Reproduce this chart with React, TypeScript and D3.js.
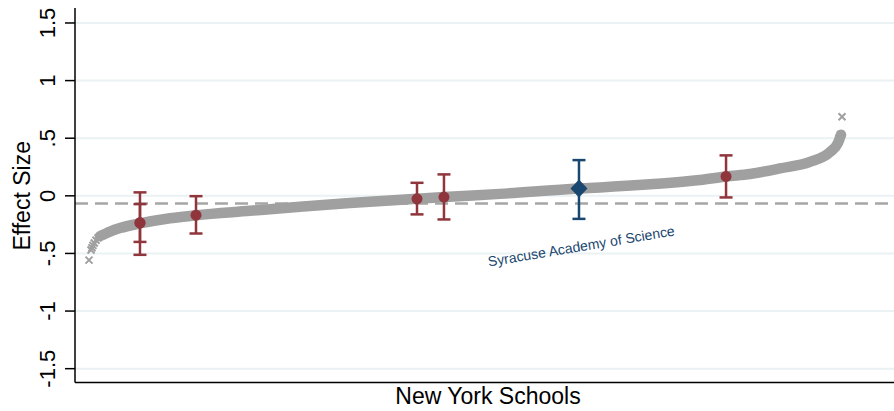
import React, { useEffect, useRef } from 'react';
import * as d3 from 'd3';

// school rank expressed as percentile (0 = lowest effect, 100 = highest)
const curvePct = [1.46, 2.79, 4.12, 6.77, 10.76, 14.21, 21.38, 28.02, 34.66, 43.56, 47.14, 54.58, 65.07, 67.86, 74.5, 81.14, 84.6, 87.78, 91.77, 95.75, 98.41, 99.47, 99.87];
const curveEffect = [-0.35, -0.31, -0.28, -0.24, -0.195, -0.168, -0.13, -0.095, -0.063, -0.026, -0.011, 0.017, 0.064, 0.073, 0.1, 0.137, 0.168, 0.19, 0.238, 0.295, 0.38, 0.46, 0.53];

// sparse tail schools drawn as single markers
const tailPct = [0, 0.27, 0.4, 0.53, 0.7, 0.93, 1.2, 99.6, 99.8, 100];
const tailEffect = [-0.558, -0.47, -0.45, -0.43, -0.41, -0.385, -0.365, 0.5, 0.53, 0.686];

// highlighted schools (red) with confidence intervals
const highlightPct = [6.77, 6.77, 14.21, 43.56, 47.14, 84.6];
const highlightEst = [-0.234, -0.234, -0.168, -0.026, -0.011, 0.168];
const highlightLo = [-0.512, -0.40, -0.327, -0.161, -0.205, -0.014];
const highlightHi = [0.03, -0.072, -0.003, 0.113, 0.186, 0.351];

// focus school
const focusName = 'Syracuse Academy of Science';
const focusPct = 65.07;
const focusEst = 0.064;
const focusLo = -0.2;
const focusHi = 0.31;

const meanEffect = -0.066;

const yTicks = [1.5, 1, 0.5, 0, -0.5, -1, -1.5];
const yTickLabels = ['1.5', '1', '.5', '0', '-.5', '-1', '-1.5'];

const W = 894, H = 411;
const RED = '#90353b';
const NAVY = '#1a476f';
const GRAY = '#a0a0a0';
const FONT = '"Liberation Sans", Arial, sans-serif';

const App = () => {
  const ref = useRef<SVGSVGElement>(null);

  useEffect(() => {
    const svg = d3.select(ref.current);
    svg.selectAll('*').remove();

    const left = 75, right = W, top = 8, bottom = 382.5;
    const x = d3.scaleLinear().domain([0, 100]).range([89, 842]);
    const y = d3.scaleLinear().domain([-1.62, 1.63]).range([bottom, top]);

    // gridlines
    svg.append('g').selectAll('line').data(yTicks).join('line')
      .attr('x1', left).attr('x2', right)
      .attr('y1', d => y(d)).attr('y2', d => y(d))
      .attr('stroke', '#eaf2f3').attr('stroke-width', 2);

    // mean line
    svg.append('line')
      .attr('x1', left).attr('x2', right)
      .attr('y1', y(meanEffect)).attr('y2', y(meanEffect))
      .attr('stroke', '#a6a6a6').attr('stroke-width', 2.5)
      .attr('stroke-dasharray', '13 7');

    // band of all schools
    const pts = curvePct.map((p, i) => [p, curveEffect[i]] as [number, number]);
    const line = d3.line<[number, number]>()
      .x(d => x(d[0])).y(d => y(d[1]))
      .curve(d3.curveMonotoneX);
    svg.append('path').attr('d', line(pts))
      .attr('fill', 'none').attr('stroke', GRAY)
      .attr('stroke-width', 10.5).attr('stroke-linecap', 'round');

    // tail markers (x)
    const s = 3.5;
    svg.append('g').selectAll('path').data(tailPct).join('path')
      .attr('d', (d, i) => {
        const cx = x(d), cy = y(tailEffect[i]);
        return `M${cx - s},${cy - s}L${cx + s},${cy + s}M${cx - s},${cy + s}L${cx + s},${cy - s}`;
      })
      .attr('stroke', GRAY).attr('stroke-width', 2).attr('fill', 'none');

    // error bars
    const cap = 6.5;
    const drawBar = (g, px, lo, hi, color) => {
      const cx = x(px);
      g.append('line').attr('x1', cx).attr('x2', cx).attr('y1', y(lo)).attr('y2', y(hi))
        .attr('stroke', color).attr('stroke-width', 2.5);
      [lo, hi].forEach(v => {
        g.append('line').attr('x1', cx - cap).attr('x2', cx + cap).attr('y1', y(v)).attr('y2', y(v))
          .attr('stroke', color).attr('stroke-width', 2.5);
      });
    };
    const bars = svg.append('g');
    highlightPct.forEach((p, i) => drawBar(bars, p, highlightLo[i], highlightHi[i], RED));
    drawBar(bars, focusPct, focusLo, focusHi, NAVY);

    svg.append('g').selectAll('circle').data(highlightPct).join('circle')
      .attr('cx', d => x(d)).attr('cy', (d, i) => y(highlightEst[i]))
      .attr('r', 5.5).attr('fill', RED);

    const fx = x(focusPct), fy = y(focusEst);
    svg.append('path')
      .attr('d', `M${fx},${fy - 9}L${fx + 8.5},${fy}L${fx},${fy + 9}L${fx - 8.5},${fy}Z`)
      .attr('fill', NAVY);

    svg.append('text')
      .attr('transform', `translate(582,251) rotate(-9.5)`)
      .attr('text-anchor', 'middle')
      .attr('font-family', FONT).attr('font-size', 14)
      .attr('fill', NAVY).text(focusName);

    // axes
    svg.append('line').attr('x1', left).attr('x2', left).attr('y1', top).attr('y2', bottom)
      .attr('stroke', '#000').attr('stroke-width', 1.5);
    svg.append('line').attr('x1', left).attr('x2', right).attr('y1', bottom).attr('y2', bottom)
      .attr('stroke', '#000').attr('stroke-width', 1.5);
    svg.append('g').selectAll('line').data(yTicks).join('line')
      .attr('x1', left - 10).attr('x2', left)
      .attr('y1', d => y(d)).attr('y2', d => y(d))
      .attr('stroke', '#000').attr('stroke-width', 1.5);
    svg.append('g').selectAll('text').data(yTicks).join('text')
      .attr('transform', d => `translate(55,${y(d)}) rotate(-90)`)
      .attr('text-anchor', 'middle')
      .attr('font-family', FONT).attr('font-size', 22)
      .text((d, i) => yTickLabels[i]);

    svg.append('text')
      .attr('transform', `translate(30,${y(0)}) rotate(-90)`)
      .attr('text-anchor', 'middle')
      .attr('font-family', FONT).attr('font-size', 23)
      .text('Effect Size');

    svg.append('text')
      .attr('x', 488).attr('y', 404)
      .attr('text-anchor', 'middle')
      .attr('font-family', FONT).attr('font-size', 23)
      .text('New York Schools');
  }, []);

  return (
    <svg ref={ref} width={W} height={H}
      style={{ position: 'absolute', left: 0, top: 0, background: '#fff' }} />
  );
};

export default App;
